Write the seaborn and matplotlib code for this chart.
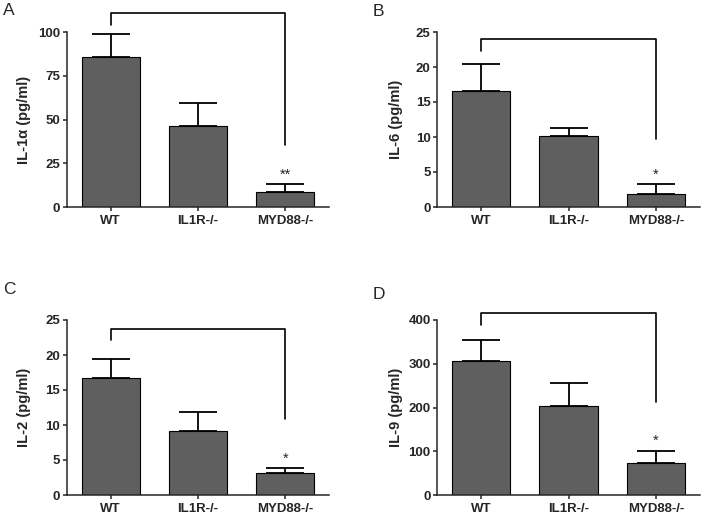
import numpy as np
import pandas as pd
import matplotlib
matplotlib.use("Agg")
import matplotlib.pyplot as plt
import seaborn as sns

sns.set_style("ticks")
plt.rcParams['font.family'] = ['Liberation Sans', 'DejaVu Sans']

categories = ["WT", "IL1R-/-", "MYD88-/-"]

il1a_mean = [86.0, 46.3, 8.8]
il1a_err = [12.7, 12.9, 4.3]
il6_mean = [16.6, 10.1, 1.9]
il6_err = [3.9, 1.25, 1.35]
il2_mean = [16.7, 9.1, 3.2]
il2_err = [2.75, 2.7, 0.6]
il9_mean = [307, 203, 73]
il9_err = [47, 52, 28]

ylabels = ["IL-1\u03b1 (pg/ml)", "IL-6 (pg/ml)", "IL-2 (pg/ml)", "IL-9 (pg/ml)"]
yticks = [[0, 25, 50, 75, 100], [0, 5, 10, 15, 20, 25], [0, 5, 10, 15, 20, 25], [0, 100, 200, 300, 400]]
ymax = [100, 25, 25, 400]
letters = ["A", "B", "C", "D"]
stars = ["**", "*", "*", "*"]
# bracket levels: top, left end, right end
brackets = [[110.9, 104.0, 35.4], [23.95, 22.3, 9.7], [23.7, 22.1, 10.8], [415, 388, 212]]

means = [il1a_mean, il6_mean, il2_mean, il9_mean]
errs = [il1a_err, il6_err, il2_err, il9_err]

W, H = 705, 516
fig = plt.figure(figsize=(W / 100, H / 100), dpi=100)

axes_px = [(67, 207), (437.5, 207), (67, 495), (437.5, 495)]
letter_px = [(3, 15), (373, 16), (3, 294), (373, 299)]
ylab_x = [31, 403, 31, 403]
ax_w, ax_h = 262, 175

bar_color = "#5f5f5f"
for i in range(4):
    x0, y0 = axes_px[i]
    ax = fig.add_axes([x0 / W, 1 - y0 / H, ax_w / W, ax_h / H])
    df = pd.DataFrame({"group": categories, "value": means[i]})
    sns.barplot(data=df, x="group", y="value", ax=ax, color=bar_color,
                saturation=1, edgecolor="black", linewidth=0.8, width=0.665,
                errorbar=None)
    ax.errorbar(range(3), means[i], yerr=[np.zeros(3), errs[i]], fmt="none",
                ecolor="black", elinewidth=1.3, capsize=14, capthick=1.3)
    ax.set_xlim(-0.5, 2.5)
    ax.set_ylim(0, ymax[i])
    ax.set_yticks(yticks[i])
    ax.set_xlabel("")
    ax.set_ylabel(ylabels[i], fontsize=10.5, fontweight="bold")
    ax.yaxis.set_label_coords((ylab_x[i] - x0) / ax_w, 0.5)
    for lab in ax.get_xticklabels() + ax.get_yticklabels():
        lab.set_fontweight("bold")
        lab.set_fontsize(9.5)
    ax.tick_params(axis="both", length=3, width=1.1, pad=2)
    ax.tick_params(axis="x", pad=2.5)
    sns.despine(ax=ax)
    for s in ["left", "bottom"]:
        ax.spines[s].set_linewidth(1.1)
    top, lft, rgt = brackets[i]
    ax.plot([0, 0, 2, 2], [lft, top, top, rgt], color="black", lw=1.2,
            clip_on=False)
    ax.annotate(stars[i], (2, means[i][2] + errs[i][2]), xytext=(0, 2),
                textcoords="offset points", ha="center", va="bottom",
                fontsize=10.5)
    lx, ly = letter_px[i]
    fig.text(lx / W, 1 - ly / H, letters[i], fontsize=12.5, ha="left",
             va="baseline")

fig.savefig("out.png", dpi=100)
